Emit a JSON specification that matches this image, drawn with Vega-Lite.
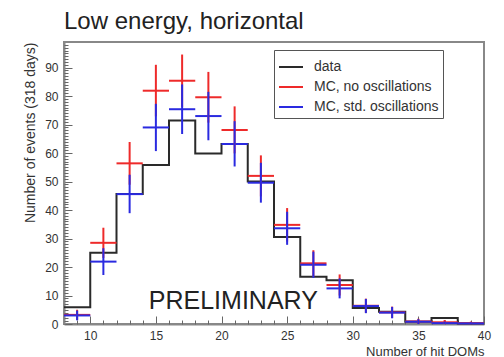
{
  "$schema": "https://vega.github.io/schema/vega-lite/v6.json",
  "width": 420,
  "height": 282,
  "autosize": {"type": "none"},
  "padding": {"left": 64, "top": 42, "right": 20, "bottom": 33},
  "background": "white",
  "title": {"text": "Low energy, horizontal", "anchor": "start", "frame": "group", "fontSize": 24, "font": "Liberation Sans", "fontWeight": "normal", "color": "#222", "offset": 8},
  "config": {"view": {"stroke": "#888", "strokeWidth": 2}, "font": "Liberation Sans"},
  "resolve": {"axis": {"x": "independent", "y": "independent"}},
  "datasets": {
    "hist": [
      {"series": "data", "edge": 8, "count": 5.9},
      {"series": "data", "edge": 10, "count": 25},
      {"series": "data", "edge": 12, "count": 45.6},
      {"series": "data", "edge": 14, "count": 55.8},
      {"series": "data", "edge": 16, "count": 71.4},
      {"series": "data", "edge": 18, "count": 59.9},
      {"series": "data", "edge": 20, "count": 63.2},
      {"series": "data", "edge": 22, "count": 50},
      {"series": "data", "edge": 24, "count": 30.5},
      {"series": "data", "edge": 26, "count": 16.6},
      {"series": "data", "edge": 28, "count": 15.4},
      {"series": "data", "edge": 30, "count": 5.6},
      {"series": "data", "edge": 32, "count": 4.3},
      {"series": "data", "edge": 34, "count": 0.8},
      {"series": "data", "edge": 36, "count": 2.1},
      {"series": "data", "edge": 38, "count": 0.2},
      {"series": "data", "edge": 40, "count": 0.2}
    ],
    "mc": [
      {"series": "MC, no oscillations", "x0": 8, "x1": 10, "center": 9, "value": 3.2, "lo": 1.4, "hi": 5.0},
      {"series": "MC, no oscillations", "x0": 10, "x1": 12, "center": 11, "value": 28.5, "lo": 23.2, "hi": 33.8},
      {"series": "MC, no oscillations", "x0": 12, "x1": 14, "center": 13, "value": 56.4, "lo": 48.9, "hi": 63.9},
      {"series": "MC, no oscillations", "x0": 14, "x1": 16, "center": 15, "value": 81.9, "lo": 72.9, "hi": 91.0},
      {"series": "MC, no oscillations", "x0": 16, "x1": 18, "center": 17, "value": 85.4, "lo": 76.2, "hi": 94.6},
      {"series": "MC, no oscillations", "x0": 18, "x1": 20, "center": 19, "value": 79.6, "lo": 70.7, "hi": 88.5},
      {"series": "MC, no oscillations", "x0": 20, "x1": 22, "center": 21, "value": 68.1, "lo": 59.9, "hi": 76.4},
      {"series": "MC, no oscillations", "x0": 22, "x1": 24, "center": 23, "value": 52, "lo": 44.8, "hi": 59.2},
      {"series": "MC, no oscillations", "x0": 24, "x1": 26, "center": 25, "value": 34.8, "lo": 28.9, "hi": 40.7},
      {"series": "MC, no oscillations", "x0": 26, "x1": 28, "center": 27, "value": 21.3, "lo": 16.7, "hi": 25.9},
      {"series": "MC, no oscillations", "x0": 28, "x1": 30, "center": 29, "value": 13.7, "lo": 10.0, "hi": 17.4},
      {"series": "MC, no oscillations", "x0": 30, "x1": 32, "center": 31, "value": 6.4, "lo": 3.9, "hi": 8.9},
      {"series": "MC, no oscillations", "x0": 32, "x1": 34, "center": 33, "value": 4.1, "lo": 2.1, "hi": 6.1},
      {"series": "MC, no oscillations", "x0": 34, "x1": 36, "center": 35, "value": 0.9, "lo": 0.0, "hi": 1.85},
      {"series": "MC, no oscillations", "x0": 36, "x1": 38, "center": 37, "value": 0.6, "lo": 0.0, "hi": 1.4},
      {"series": "MC, no oscillations", "x0": 38, "x1": 40, "center": 39, "value": 0.3, "lo": 0.0, "hi": 0.85},
      {"series": "MC, std. oscillations", "x0": 8, "x1": 10, "center": 9, "value": 3.0, "lo": 1.3, "hi": 4.7},
      {"series": "MC, std. oscillations", "x0": 10, "x1": 12, "center": 11, "value": 21.9, "lo": 17.2, "hi": 26.6},
      {"series": "MC, std. oscillations", "x0": 12, "x1": 14, "center": 13, "value": 45.6, "lo": 38.9, "hi": 52.4},
      {"series": "MC, std. oscillations", "x0": 14, "x1": 16, "center": 15, "value": 69.0, "lo": 60.7, "hi": 77.3},
      {"series": "MC, std. oscillations", "x0": 16, "x1": 18, "center": 17, "value": 75.4, "lo": 66.7, "hi": 84.1},
      {"series": "MC, std. oscillations", "x0": 18, "x1": 20, "center": 19, "value": 73, "lo": 64.5, "hi": 81.5},
      {"series": "MC, std. oscillations", "x0": 20, "x1": 22, "center": 21, "value": 63.2, "lo": 55.3, "hi": 71.2},
      {"series": "MC, std. oscillations", "x0": 22, "x1": 24, "center": 23, "value": 49.6, "lo": 42.6, "hi": 56.6},
      {"series": "MC, std. oscillations", "x0": 24, "x1": 26, "center": 25, "value": 33.6, "lo": 27.8, "hi": 39.4},
      {"series": "MC, std. oscillations", "x0": 26, "x1": 28, "center": 27, "value": 20.8, "lo": 16.2, "hi": 25.4},
      {"series": "MC, std. oscillations", "x0": 28, "x1": 30, "center": 29, "value": 12.5, "lo": 9.0, "hi": 16.0},
      {"series": "MC, std. oscillations", "x0": 30, "x1": 32, "center": 31, "value": 6.3, "lo": 3.8, "hi": 8.8},
      {"series": "MC, std. oscillations", "x0": 32, "x1": 34, "center": 33, "value": 4.0, "lo": 2.0, "hi": 6.0},
      {"series": "MC, std. oscillations", "x0": 34, "x1": 36, "center": 35, "value": 0.8, "lo": 0.0, "hi": 1.7},
      {"series": "MC, std. oscillations", "x0": 36, "x1": 38, "center": 37, "value": 0.3, "lo": 0.0, "hi": 0.85},
      {"series": "MC, std. oscillations", "x0": 38, "x1": 40, "center": 39, "value": 0.2, "lo": 0.0, "hi": 0.65}
    ],
    "note": [{"label": "PRELIMINARY", "x": 20.9, "y": 5.3}]
  },
  "layer": [
    {
      "data": {"name": "hist"},
      "mark": {"type": "line", "interpolate": "step-after", "strokeWidth": 2},
      "encoding": {
        "x": {"field": "edge", "type": "quantitative",
          "scale": {"domain": [8, 40], "nice": false, "zero": false},
          "axis": {
            "orient": "bottom",
            "title": "Number of hit DOMs", "titleAnchor": "end", "titleFontSize": 13, "titleFontWeight": "normal", "titleColor": "#333",
            "titleY": 31, "titleBaseline": "alphabetic",
            "values": [10, 15, 20, 25, 30, 35, 40],
            "labelOverlap": false, "labelFlush": false,
            "labelFontSize": 12, "labelColor": "#333", "labelPadding": 14,
            "tickColor": "#666", "tickSize": -8, "tickWidth": 1,
            "domainColor": "#888", "domainWidth": 2, "grid": false
          }
        },
        "y": {"field": "count", "type": "quantitative",
          "scale": {"domain": [0, 99], "nice": false, "zero": true},
          "axis": {
            "orient": "left",
            "title": "Number of events (318 days)", "titleAnchor": "end", "titleFontSize": 14, "titleFontWeight": "normal", "titleColor": "#333", "titlePadding": 7,
            "values": [0, 10, 20, 30, 40, 50, 60, 70, 80, 90],
            "labelOverlap": false, "labelFlush": false,
            "labelFontSize": 12, "labelColor": "#333", "labelPadding": 14,
            "tickColor": "#666", "tickSize": -8, "tickWidth": 1,
            "domainColor": "#888", "domainWidth": 2, "grid": false
          }
        },
        "color": {"field": "series", "type": "nominal",
          "scale": {"domain": ["data", "MC, no oscillations", "MC, std. oscillations"], "range": ["#2a2a2a", "#ee2a2a", "#2a2ae0"]},
          "legend": {
            "title": null, "orient": "none", "legendX": 210, "legendY": 8,
            "symbolType": "stroke", "symbolSize": 576, "symbolStrokeWidth": 2,
            "labelFontSize": 14, "labelColor": "#333", "labelOffset": 10,
            "rowPadding": -2, "padding": 4,
            "strokeColor": "#555", "fillColor": "white"
          }
        }
      }
    },
    {
      "data": {"name": "mc"},
      "mark": {"type": "rule", "strokeWidth": 2},
      "encoding": {
        "x": {"field": "x0", "type": "quantitative",
          "axis": {"orient": "bottom", "title": null, "labels": false, "domain": false, "grid": false, "tickSize": -4, "tickColor": "#666", "tickWidth": 1,
            "values": [8,9,11,12,13,14,16,17,18,19,21,22,23,24,26,27,28,29,31,32,33,34,36,37,38,39]}},
        "x2": {"field": "x1"},
        "y": {"field": "value", "type": "quantitative",
          "axis": {"orient": "left", "title": null, "labels": false, "domain": false, "grid": false, "tickSize": -4, "tickColor": "#666", "tickWidth": 1,
            "values": [1,2,3,4,5,6,7,8,9,11,12,13,14,15,16,17,18,19,21,22,23,24,25,26,27,28,29,31,32,33,34,35,36,37,38,39,41,42,43,44,45,46,47,48,49,51,52,53,54,55,56,57,58,59,61,62,63,64,65,66,67,68,69,71,72,73,74,75,76,77,78,79,81,82,83,84,85,86,87,88,89,91,92,93,94,95,96,97,98]}},
        "color": {"field": "series", "type": "nominal"}
      }
    },
    {
      "data": {"name": "mc"},
      "mark": {"type": "rule", "strokeWidth": 2},
      "encoding": {
        "x": {"field": "center", "type": "quantitative", "axis": null},
        "y": {"field": "lo", "type": "quantitative", "axis": null},
        "y2": {"field": "hi"},
        "color": {"field": "series", "type": "nominal"}
      }
    },
    {
      "data": {"name": "note"},
      "mark": {"type": "text", "fontSize": 25, "font": "Liberation Sans", "color": "#222", "baseline": "alphabetic", "align": "center"},
      "encoding": {
        "x": {"field": "x", "type": "quantitative", "axis": null},
        "y": {"field": "y", "type": "quantitative", "axis": null},
        "text": {"field": "label"}
      }
    }
  ]
}
